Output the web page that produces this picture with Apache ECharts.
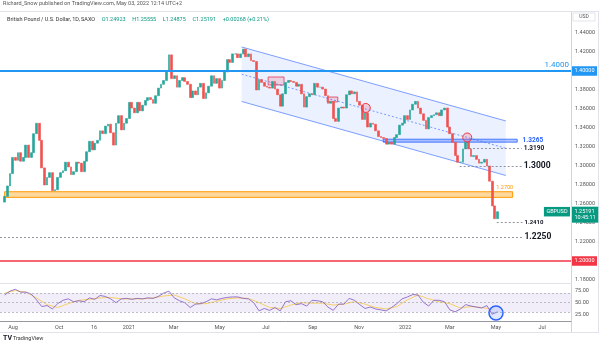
<!DOCTYPE html>
<html><head><meta charset="utf-8">
<script src="https://cdn.jsdelivr.net/npm/echarts@6/dist/echarts.min.js"></script>
<style>html,body{margin:0;padding:0;background:#fff}#c{width:602px;height:346px}</style>
</head><body><div id="c"></div>
<script>
const DAY = 86400000;
const FONT = 'Roboto, "Liberation Sans", sans-serif';

// ---- data ----
const firstCandleDate = '2020-07-21';
const candleStepDays = 3.5;
const firstOpen = 1.262;
const closes = [
1.268,1.279,1.292,1.309,1.306,1.314,1.305,1.309,1.322,1.309,
1.314,1.334,1.345,1.327,1.298,1.280,1.288,1.293,1.274,1.275,
1.288,1.293,1.295,1.304,1.299,1.291,1.294,1.304,1.303,1.294,
1.305,1.315,1.326,1.317,1.324,1.327,1.337,1.334,1.342,1.344,
1.335,1.322,1.345,1.353,1.338,1.345,1.350,1.367,1.361,1.356,
1.367,1.358,1.364,1.369,1.372,1.370,1.366,1.374,1.382,1.386,
1.390,1.400,1.417,1.392,1.395,1.383,1.390,1.393,1.389,1.386,
1.372,1.379,1.375,1.383,1.387,1.371,1.377,1.384,1.395,1.387,
1.392,1.382,1.390,1.399,1.412,1.409,1.418,1.418,1.414,1.418,
1.423,1.415,1.418,1.411,1.410,1.380,1.391,1.388,1.384,1.383,
1.382,1.389,1.381,1.375,1.363,1.376,1.388,1.390,1.389,1.388,
1.384,1.386,1.376,1.362,1.373,1.376,1.375,1.387,1.383,1.383,
1.381,1.374,1.366,1.368,1.350,1.347,1.361,1.362,1.361,1.375,
1.379,1.376,1.378,1.368,1.364,1.349,1.356,1.341,1.345,1.344,
1.337,1.331,1.330,1.329,1.323,1.325,1.323,1.330,1.333,1.343,
1.345,1.353,1.349,1.359,1.365,1.368,1.361,1.355,1.348,1.339,
1.351,1.353,1.354,1.356,1.353,1.359,1.361,1.341,1.334,1.325,
1.311,1.304,1.304,1.318,1.325,1.318,1.310,1.311,1.307,1.303,
1.304,1.307,1.300,1.284,1.258,1.2445,1.2519
];
const rsiStepDays = 7;
const rsiValues = [
66,74,78,72,72,68,56,42,44,37, 48,55,58,52,54,52,60,57,65,63,
58,50,58,59,57,59,58,60,59,63, 70,74,60,54,50,40,47,48,52,58,
56,59,61,62,62,59,58,50,33,38, 34,40,33,52,54,46,48,43,55,54,
52,41,34,47,47,59,55,46,38,41, 37,35,33,40,48,58,62,67,66,51,
43,55,55,52,35,31,37,46,43,41, 39,44,26,31
];
const rsiMaStepDays = 14;
const rsiMaValues = [
70,75,72,60,46,40,48,55,57,60, 61,58,58,58,60,64,66,58,48,48,
53,58,60,59,50,40,38,45,50,49, 49,45,47,52,47,40,37,42,56,66,
58,52,48,39,42,40,36
];
const xTickDates = ['2020-08-01','2020-10-01','2020-11-16','2021-01-01','2021-03-01','2021-05-01','2021-07-01','2021-09-01','2021-11-01','2022-01-01','2022-03-01','2022-05-01','2022-07-01'];
const xTickLabels = ['Aug','Oct','16','2021','Mar','May','Jul','Sep','Nov','2022','Mar','May','Jul'];
const priceTicks = [1.18,1.20,1.22,1.24,1.26,1.28,1.30,1.32,1.34,1.36,1.38,1.40,1.42,1.44];
const rsiTicks = [25,50,75];
const rsiLevels = [70,50,30];
const rsiBand = [30,70];

// annotations
const channelDates = ['2021-05-30','2022-05-14'];
const channelUpper = [1.4253,1.3474];
const channelMid = [1.3966,1.3187];
const channelLower = [1.3679,1.2900];
const dashedLevels = [1.3190,1.3000,1.2410,1.2250];
const dashedLabels = ['1.3190','1.3000','1.2410','1.2250'];
const dashedStart = ['2022-03-21','2022-03-14','2022-05-02',null];
const dashedEnd = ['2022-06-04','2022-06-04','2022-06-05','2022-06-05'];
const resistance = 1.4000, support = 1.2000;
const orangeZone = {from:'2020-07-21', to:'2022-05-23', low:1.2670, high:1.2729, label:'1.2700'};
const blueZone = {from:'2021-12-03', to:'2022-05-29', low:1.3251, high:1.3282, label:'1.3265'};
const redBoxDates = [['2021-07-04','2021-07-25'],['2021-09-20','2021-10-04']];
const redBoxPrices = [[1.3853,1.3937],[1.3674,1.3726]];
const redCircleDates = ['2021-11-10','2022-03-24'];
const redCirclePrices = [1.3611,1.3300];
const rsiCircle = {date:'2022-05-01', value:28.5};
const lastPrice = 1.25191;

// ---- helpers ----
const t = s => Date.parse(s + 'T00:00:00Z');
const t0 = t(firstCandleDate);
const ref = t('2020-08-01');
const xMin = ref - 17.17*DAY, xMax = ref + 737.07*DAY;
const yMin = 1.176842, yMax = 1.462105;
const rMin = 11.875, rMax = 88.96;

const candles = closes.map((c,i)=>{
  const o = i ? closes[i-1] : firstOpen;
  return [t0 + i*candleStepDays*DAY, o, c, Math.min(o,c), Math.max(o,c)];
});
const rsiData = rsiValues.map((v,i)=>[t0 + i*rsiStepDays*DAY, v]);
const rsiMaData = rsiMaValues.map((v,i)=>[t0 + i*rsiMaStepDays*DAY, v]);

const dashStyle = {color:'#787b86', width:0.8, type:[2,2]};
const lvlLabel = (txt, size, color, bold) => ({show:true, position:'end', distance:2, formatter:txt,
  color, fontSize:size, fontWeight: bold?'bold':'normal', fontFamily:FONT});

const markLines = [
  [{coord:[xMin,resistance], lineStyle:{color:'#2196f3', width:2, type:'solid'},
    label:{show:true, position:'insideEndTop', distance:2, formatter:'1.4000', color:'#2196f3', fontSize:8, fontFamily:FONT}},
   {coord:[xMax,resistance]}],
  [{coord:[xMin,support], lineStyle:{color:'#f23645', width:1.5, type:'solid'}, label:{show:false}},
   {coord:[xMax,support]}],
];
const sizes = [6.5,8.5,6,8.5];
dashedLevels.forEach((p,i)=>{
  const s = dashedStart[i] ? t(dashedStart[i]) : xMin;
  markLines.push([{coord:[s,p], lineStyle:dashStyle, label:lvlLabel(dashedLabels[i], sizes[i], '#131722', true)},
                  {coord:[t(dashedEnd[i]),p]}]);
});

const markAreas = [
  [{coord:[t(orangeZone.from),orangeZone.high], itemStyle:{color:'rgba(255,152,0,0.38)', borderColor:'#ff9800', borderWidth:1},
    label:{show:true, position:['100%',-1], align:'right', verticalAlign:'bottom', formatter:orangeZone.label, color:'#ff9800', fontSize:5.5, fontFamily:FONT}},
   {coord:[t(orangeZone.to),orangeZone.low]}],
  [{coord:[t(blueZone.from),blueZone.high], itemStyle:{color:'rgba(41,98,255,0.35)', borderColor:'#2962ff', borderWidth:0.8},
    label:{show:true, position:'right', distance:5, formatter:blueZone.label, color:'#2962ff', fontSize:6.5, fontWeight:'bold', fontFamily:FONT}},
   {coord:[t(blueZone.to),blueZone.low]}],
];
redBoxDates.forEach((d,i)=>{
  markAreas.push([{coord:[t(d[0]),redBoxPrices[i][1]], itemStyle:{color:'rgba(242,54,69,0.18)', borderColor:'#f23645', borderWidth:0.8}, label:{show:false}},
                  {coord:[t(d[1]),redBoxPrices[i][0]]}]);
});
const markPoints = redCircleDates.map((d,i)=>({coord:[t(d),redCirclePrices[i]], symbol:'circle', symbolSize:9,
  itemStyle:{color:'rgba(242,54,69,0.2)', borderColor:'#f23645', borderWidth:1}, label:{show:false}}));
const tag = (p, txt, bg, pos, offset) => ({coord:[xMax,p], symbol:'circle', symbolSize:0.01,
  itemStyle:{color:'rgba(0,0,0,0)'},
  label:{show:true, position:pos, distance:1, formatter:txt, backgroundColor:bg, color:'#fff', fontSize:5.5,
    fontFamily:FONT, padding:[1.5,2.5], lineHeight:6.5, offset:offset||[0,0]}});
markPoints.push(tag(resistance,'1.40000','#2196f3','right'));
markPoints.push(tag(support,'1.20000','#f23645','right'));
markPoints.push(tag(lastPrice,'1.25191\n10:45:11','#089981','right',[0,3]));
markPoints.push(tag(lastPrice,'GBPUSD','#089981','left'));

const option = {
  animation:false,
  backgroundColor:'#fff',
  textStyle:{fontFamily:FONT},
  grid:[
    {left:0, right:31, top:12, height:271},
    {left:0, right:31, top:284, height:37}
  ],
  xAxis:[
    {type:'value', gridIndex:0, min:xMin, max:xMax, axisLabel:{show:false}, axisTick:{show:false},
     splitLine:{show:false}, axisLine:{show:true, lineStyle:{color:'#e0e3eb'}}},
    {type:'value', gridIndex:1, min:xMin, max:xMax, splitLine:{show:false}, axisTick:{show:false},
     axisLine:{show:true, lineStyle:{color:'#9598a1'}},
     axisLabel:{customValues:xTickDates.map(t), fontSize:5.5, color:'#555', margin:4, fontFamily:FONT,
       formatter:v=>{const k=xTickDates.map(t).indexOf(v); return k>=0?xTickLabels[k]:'';}}}
  ],
  yAxis:[
    {type:'value', gridIndex:0, position:'right', min:yMin, max:yMax, splitLine:{show:false},
     axisTick:{show:false}, axisLine:{show:true, lineStyle:{color:'#d1d4dc'}},
     axisLabel:{customValues:priceTicks, formatter:v=>v.toFixed(5), fontSize:5.5, color:'#555', margin:4, fontFamily:FONT}},
    {type:'value', gridIndex:1, position:'right', min:rMin, max:rMax, splitLine:{show:false},
     axisTick:{show:false}, axisLine:{show:true, lineStyle:{color:'#d1d4dc'}},
     axisLabel:{customValues:rsiTicks, formatter:v=>v.toFixed(2), fontSize:5.5, color:'#555', margin:4, fontFamily:FONT}}
  ],
  series:[
    {type:'custom', name:'channel', xAxisIndex:0, yAxisIndex:0, z:1, clip:true,
     data:[[t(channelDates[0]), channelUpper[0]]],
     renderItem:(params, api)=>{
       const u = channelDates.map((d,i)=>api.coord([t(d), channelUpper[i]]));
       const l = channelDates.map((d,i)=>api.coord([t(d), channelLower[i]]));
       const m = channelDates.map((d,i)=>api.coord([t(d), channelMid[i]]));
       return {type:'group', children:[
         {type:'polygon', shape:{points:[u[0],u[1],l[1],l[0]]}, style:{fill:'rgba(41,98,255,0.09)'}},
         {type:'polyline', shape:{points:u}, style:{stroke:'rgba(41,98,255,0.6)', lineWidth:1, fill:null}},
         {type:'polyline', shape:{points:l}, style:{stroke:'rgba(41,98,255,0.6)', lineWidth:1, fill:null}},
         {type:'polyline', shape:{points:m}, style:{stroke:'rgba(41,98,255,0.6)', lineWidth:1, lineDash:[2,2], fill:null}}
       ]};
     }},
    {type:'candlestick', name:'GBPUSD', xAxisIndex:0, yAxisIndex:0, z:2, data:candles,
     encode:{x:0, y:[1,2,3,4]}, barWidth:2.3,
     itemStyle:{color:'#26a69a', color0:'#ef5350', borderColor:'#26a69a', borderColor0:'#ef5350', borderWidth:0.6}},
    {type:'line', name:'levels', xAxisIndex:0, yAxisIndex:0, z:3, data:[], silent:true,
     markLine:{symbol:['none','none'], silent:true, data:markLines},
     markArea:{silent:true, data:markAreas},
     markPoint:{silent:true, data:markPoints}},
    {type:'line', name:'RSI', xAxisIndex:1, yAxisIndex:1, data:rsiData, showSymbol:false, z:3,
     lineStyle:{color:'#7e57c2', width:0.8},
     markArea:{silent:true, itemStyle:{color:'rgba(126,87,194,0.1)'}, data:[[{yAxis:rsiBand[0]},{yAxis:rsiBand[1]}]]},
     markLine:{silent:true, symbol:['none','none'], label:{show:false}, lineStyle:{color:'#a3a6af', width:0.7, type:[2,2]},
       data:rsiLevels.map(v=>({yAxis:v}))},
     markPoint:{silent:true, data:[{coord:[t(rsiCircle.date), rsiCircle.value], symbol:'circle', symbolSize:14,
       itemStyle:{color:'rgba(41,98,255,0.15)', borderColor:'#2962ff', borderWidth:1.5}, label:{show:false}}]}},
    {type:'line', name:'RSI MA', xAxisIndex:1, yAxisIndex:1, data:rsiMaData, showSymbol:false, z:2,
     lineStyle:{color:'#f5c842', width:0.8}}
  ],
  graphic:[
    {type:'text', left:3, top:1, style:{text:'Richard_Snow published on TradingView.com, May 03, 2022 12:14 UTC+2', fontSize:5.5, fill:'#555', fontFamily:FONT}},
    {type:'line', shape:{x1:0,y1:11.5,x2:598,y2:11.5}, style:{stroke:'#e0e3eb', lineWidth:1}},
    {type:'text', left:7, top:14, style:{rich:{a:{fontSize:5.5, fill:'#333', fontFamily:FONT}, b:{fontSize:5.5, fill:'#089981', fontFamily:FONT}},
      text:'{a|British Pound / U.S. Dollar, 1D, SAXO}  {b|O1.24923}  {b|H1.25555}  {b|L1.24875}  {b|C1.25191}  {b|+0.00268 (+0.21%)}'}},
    {type:'rect', shape:{x:573,y:13,width:22,height:8}, style:{fill:'#fff', stroke:'#d1d4dc', lineWidth:0.6}},
    {type:'text', x:584, y:17, style:{text:'USD', fontSize:5, fill:'#555', align:'center', verticalAlign:'middle', fontFamily:FONT}},
    {type:'line', shape:{x1:0,y1:332.5,x2:598,y2:332.5}, style:{stroke:'#e0e3eb', lineWidth:1}},
    {type:'line', shape:{x1:598.5,y1:11,x2:598.5,y2:333}, style:{stroke:'#e0e3eb', lineWidth:1}},
    {type:'line', shape:{x1:571.5,y1:321,x2:571.5,y2:332}, style:{stroke:'#d1d4dc', lineWidth:1}},
    {type:'text', left:3, top:335, style:{text:'TV', fontSize:7, fontWeight:'bold', fill:'#131722', fontFamily:FONT}},
    {type:'text', left:13, top:336, style:{text:'TradingView', fontSize:5.5, fill:'#333', fontFamily:FONT}}
  ]
};
const chart = echarts.init(document.getElementById('c'), null, {renderer:'canvas'});
chart.setOption(option);
</script>
</body></html>
